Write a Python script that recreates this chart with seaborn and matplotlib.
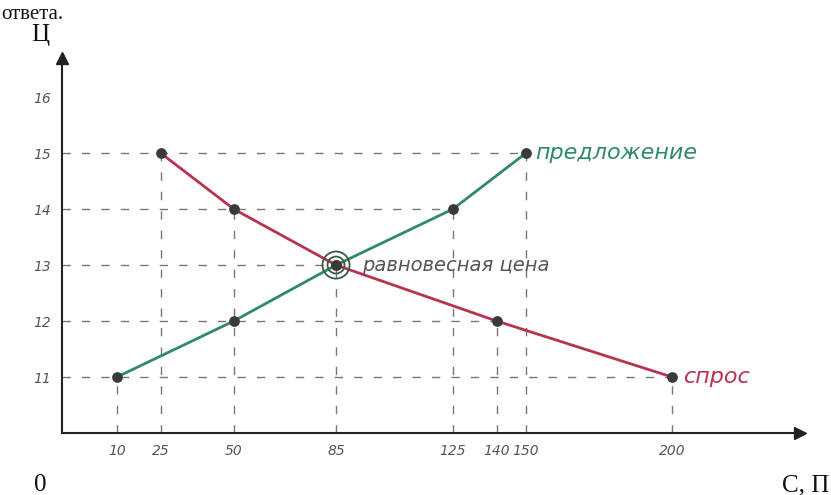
import pandas as pd
import seaborn as sns
import matplotlib.pyplot as plt

# данные графика
supply_q = [10, 50, 85, 125, 150]
supply_p = [11, 12, 13, 14, 15]
demand_q = [25, 50, 85, 140, 200]
demand_p = [15, 14, 13, 12, 11]
x_ticks = [10, 25, 50, 85, 125, 140, 150, 200]
x_minor = [37.5, 105, 175, 225]
y_ticks = [11, 12, 13, 14, 15, 16]
eq_q, eq_p = 85, 13

df = pd.concat([
    pd.DataFrame({'q': supply_q, 'p': supply_p, 'curve': 'предложение'}),
    pd.DataFrame({'q': demand_q, 'p': demand_p, 'curve': 'спрос'}),
])
colors = {'предложение': '#2f8a68', 'спрос': '#b8334f'}

sns.set_style('white')
plt.rcParams['font.family'] = ['DejaVu Sans']

fig = plt.figure(figsize=(8.31, 4.95), dpi=100)
ax = fig.add_axes([0.0746, 0.1253, 0.888, 0.7576])

# пунктирные линии к точкам
pts = df[['q', 'p']]
for y in y_ticks[:-1]:
    xmax = pts[pts.p == y].q.max()
    ax.plot([-8.8, xmax], [y, y], ls=(0, (6, 8)), color='#777777', lw=1, zorder=1)
for x in x_ticks:
    ymax = pts[pts.q == x].p.max()
    ax.plot([x, x], [10, ymax], ls=(0, (6, 8)), color='#777777', lw=1, zorder=1)

sns.lineplot(data=df, x='q', y='p', hue='curve', palette=colors, sort=False,
             lw=2, legend=False, ax=ax, zorder=3)
ax.scatter(df.q, df.p, s=45, color='#3a3a3a', zorder=4)
ax.scatter([eq_q], [eq_p], s=380, facecolors='none', edgecolors='#3a5a4a', lw=1.3, zorder=5)
ax.scatter([eq_q], [eq_p], s=150, facecolors='none', edgecolors='#3a5a4a', lw=1.3, zorder=5)

ax.text(supply_q[-1] + 3, supply_p[-1], 'предложение', color=colors['предложение'],
        fontsize=16, style='italic', va='center')
ax.text(demand_q[-1] + 4, demand_p[-1], 'спрос', color=colors['спрос'],
        fontsize=16, style='italic', va='center')
ax.text(eq_q + 9, eq_p, 'равновесная цена', color='#555555',
        fontsize=14, style='italic', va='center')

ax.set_xlim(-8.8, 243.8)
ax.set_ylim(10, 16.7)
ax.set_xticks(x_ticks)
ax.set_xticks(x_minor, minor=True)
ax.set_yticks(y_ticks)
ax.tick_params(axis='both', which='both', direction='in', length=7, width=1,
               labelsize=10, labelcolor='#555555', pad=8)
for lab in ax.get_xticklabels() + ax.get_yticklabels():
    lab.set_style('italic')
ax.set_xlabel('')
ax.set_ylabel('')
sns.despine(ax=ax)
for s in ['left', 'bottom']:
    ax.spines[s].set_linewidth(1.5)
    ax.spines[s].set_color('#222222')

# стрелки осей
ax.plot(1, 0, '>', color='#222222', ms=8, transform=ax.transAxes, clip_on=False)
ax.plot(0, 1, '^', color='#222222', ms=8, transform=ax.transAxes, clip_on=False)

serif = dict(family='Liberation Serif', fontsize=18, color='#111111')
fig.text(0.048, 0.93, 'Ц', ha='center', va='center', **serif)
fig.text(0.048, 0.02, '0', ha='center', va='center', **serif)
fig.text(0.97, 0.02, 'С, П', ha='center', va='center', **serif)
fig.text(0.002, 0.99, 'ответа.', ha='left', va='top', family='Liberation Serif',
         fontsize=15, color='#111111')

fig.savefig('out.png', dpi=100)
